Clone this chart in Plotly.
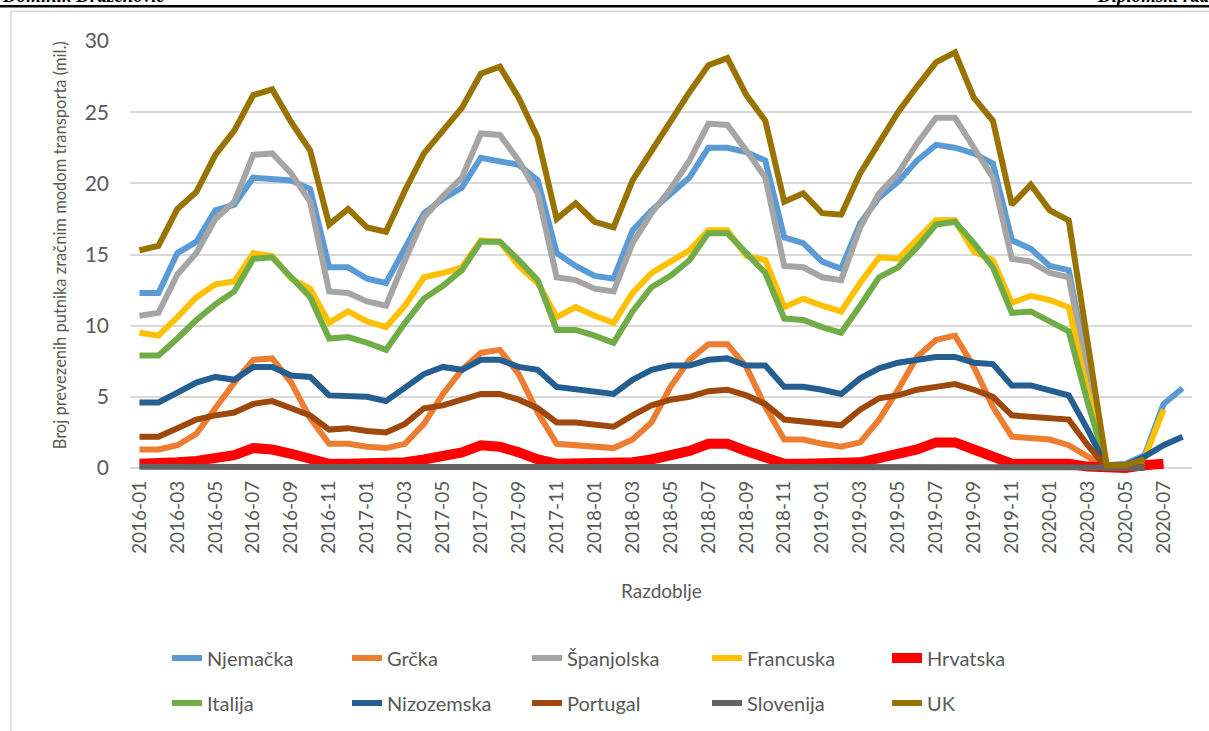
import plotly.graph_objects as go

# ---------------- data ----------------
months = [f"{y}-{m:02d}" for y in range(2016, 2021) for m in range(1, 13)][:56]
tick_labels = months[::2]

series_names = ["Njemačka", "Grčka", "Španjolska", "Francuska", "Hrvatska",
                "Italija", "Nizozemska", "Portugal", "Slovenija", "UK"]

njemacka = [12.3, 12.3, 15.1, 15.9, 18.1, 18.5, 20.4, 20.3, 20.2, 19.6, 14.1, 14.1,
            13.3, 13.0, 15.5, 17.9, 18.9, 19.7, 21.8, 21.6, 21.3, 20.2, 15.1, 14.2,
            13.5, 13.3, 16.7, 18.1, 19.3, 20.4, 22.5, 22.5, 22.2, 21.6, 16.2, 15.8,
            14.5, 14.0, 17.2, 19.0, 20.1, 21.6, 22.7, 22.5, 22.1, 21.4, 16.0, 15.4,
            14.2, 13.9, 7.0, 0.2, 0.3, 0.9, 4.5, 5.6]
grcka = [1.3, 1.3, 1.6, 2.4, 4.2, 6.0, 7.6, 7.7, 6.0, 3.5, 1.7, 1.7,
         1.5, 1.4, 1.7, 3.1, 5.2, 6.9, 8.1, 8.3, 6.6, 3.9, 1.7, 1.6,
         1.5, 1.4, 2.0, 3.2, 5.7, 7.6, 8.7, 8.7, 7.1, 4.3, 2.0, 2.0,
         1.7, 1.5, 1.8, 3.4, 5.5, 7.8, 9.0, 9.3, 7.1, 4.3, 2.2, 2.1,
         2.0, 1.6, 0.8, 0.0, 0.0, 0.1]
spanjolska = [10.7, 10.9, 13.6, 15.1, 17.5, 18.7, 22.0, 22.1, 20.7, 18.7, 12.4, 12.3,
              11.7, 11.4, 14.6, 17.6, 19.1, 20.4, 23.5, 23.4, 21.6, 19.3, 13.4, 13.2,
              12.6, 12.4, 15.8, 17.9, 19.6, 21.6, 24.2, 24.1, 22.3, 20.4, 14.2, 14.1,
              13.4, 13.2, 16.9, 19.3, 20.7, 22.8, 24.6, 24.6, 22.5, 20.4, 14.7, 14.5,
              13.7, 13.4, 6.5, 0.1, 0.1, 0.3]
francuska = [9.5, 9.3, 10.6, 12.0, 12.9, 13.1, 15.1, 14.9, 13.3, 12.6, 10.2, 11.0,
             10.3, 9.9, 11.4, 13.4, 13.7, 14.1, 16.0, 15.9, 14.2, 13.0, 10.6, 11.3,
             10.7, 10.2, 12.3, 13.7, 14.5, 15.3, 16.7, 16.7, 14.9, 14.6, 11.3, 11.9,
             11.4, 11.0, 13.0, 14.8, 14.7, 16.1, 17.4, 17.4, 15.2, 14.6, 11.6, 12.1,
             11.8, 11.3, 5.3, 0.1, 0.2, 0.7, 4.1]
hrvatska = [0.3, 0.3, 0.4, 0.5, 0.7, 0.9, 1.4, 1.3, 1.0, 0.6, 0.3, 0.3,
            0.3, 0.3, 0.4, 0.6, 0.9, 1.1, 1.6, 1.5, 1.1, 0.6, 0.3, 0.3,
            0.3, 0.3, 0.4, 0.6, 0.9, 1.2, 1.7, 1.7, 1.2, 0.7, 0.3, 0.3,
            0.3, 0.3, 0.4, 0.7, 1.0, 1.3, 1.8, 1.8, 1.3, 0.8, 0.3, 0.3,
            0.3, 0.3, 0.1, 0.0, 0.0, 0.2, 0.3]
italija = [7.9, 7.9, 9.1, 10.4, 11.5, 12.4, 14.7, 14.8, 13.4, 12.0, 9.1, 9.2,
           8.8, 8.3, 10.2, 11.9, 12.8, 13.9, 15.9, 15.9, 14.6, 13.2, 9.7, 9.7,
           9.3, 8.8, 11.0, 12.7, 13.5, 14.6, 16.5, 16.5, 15.1, 13.7, 10.5, 10.4,
           9.9, 9.5, 11.4, 13.4, 14.1, 15.5, 17.1, 17.3, 15.8, 14.1, 10.9, 11.0,
           10.3, 9.6, 4.6, 0.1, 0.1, 0.3]
nizozemska = [4.6, 4.6, 5.3, 6.0, 6.4, 6.2, 7.1, 7.1, 6.5, 6.4, 5.1, 5.1,
              5.0, 4.7, 5.7, 6.6, 7.1, 6.9, 7.6, 7.6, 7.1, 6.9, 5.7, 5.5,
              5.4, 5.2, 6.2, 6.9, 7.2, 7.2, 7.6, 7.7, 7.2, 7.2, 5.7, 5.7,
              5.5, 5.2, 6.3, 7.0, 7.4, 7.6, 7.8, 7.8, 7.4, 7.3, 5.8, 5.8,
              5.5, 5.1, 2.7, 0.1, 0.2, 0.8, 1.6, 2.2]
portugal = [2.2, 2.2, 2.8, 3.4, 3.7, 3.9, 4.5, 4.7, 4.2, 3.7, 2.7, 2.8,
            2.6, 2.5, 3.1, 4.2, 4.4, 4.8, 5.2, 5.2, 4.8, 4.2, 3.2, 3.2,
            3.0, 2.9, 3.7, 4.4, 4.8, 5.0, 5.4, 5.5, 5.1, 4.5, 3.4, 3.3,
            3.1, 3.0, 4.1, 4.9, 5.1, 5.5, 5.7, 5.9, 5.5, 5.0, 3.7, 3.6,
            3.5, 3.4, 1.6, 0.0, 0.0, 0.1]
slovenija = [0.08, 0.08, 0.09, 0.1, 0.11, 0.12, 0.14, 0.14, 0.12, 0.1, 0.08, 0.08,
             0.08, 0.08, 0.09, 0.1, 0.12, 0.13, 0.15, 0.15, 0.13, 0.11, 0.08, 0.08,
             0.08, 0.08, 0.09, 0.11, 0.12, 0.13, 0.15, 0.15, 0.13, 0.11, 0.08, 0.08,
             0.07, 0.07, 0.08, 0.09, 0.1, 0.11, 0.12, 0.12, 0.1, 0.09, 0.06, 0.06,
             0.06, 0.06, 0.03, 0.0, 0.0, 0.0]
uk = [15.3, 15.6, 18.2, 19.4, 22.0, 23.7, 26.2, 26.6, 24.3, 22.3, 17.1, 18.2,
      16.9, 16.6, 19.5, 22.1, 23.7, 25.3, 27.7, 28.2, 26.0, 23.2, 17.5, 18.6,
      17.3, 16.9, 20.2, 22.3, 24.4, 26.4, 28.3, 28.8, 26.2, 24.4, 18.7, 19.3,
      17.9, 17.8, 20.7, 22.9, 25.0, 26.8, 28.5, 29.2, 26.0, 24.4, 18.5, 19.9,
      18.1, 17.4, 8.8, 0.2, 0.2, 0.6]

series_values = [njemacka, grcka, spanjolska, francuska, hrvatska,
                 italija, nizozemska, portugal, slovenija, uk]
y_ticks = [0, 5, 10, 15, 20, 25, 30]

# ---------------- style ----------------
colors = ["#5B9BD5", "#ED7D31", "#A5A5A5", "#FFC000", "#FF0000",
          "#70AD47", "#255E91", "#9E480E", "#636363", "#997300"]
widths = [6, 6, 6, 6, 10, 6, 6, 6, 6, 6]
FONT = "Lato"
TXT = "#595959"

W, H = 1209, 731
L, R = 130, 1192          # plot area x pixels
T, B = 40.7, 472.7        # plot area y pixels


def px_x(p):
    return (p - L) / (R - L)


def px_y(p):
    return (B - p) / (B - T)


fig = go.Figure()
for i, (name, vals) in enumerate(zip(series_names, series_values)):
    fig.add_trace(go.Scatter(
        x=months[:len(vals)], y=vals, name=name, mode="lines",
        line=dict(color=colors[i], width=widths[i]),
        legend="legend" if i < 5 else "legend2",
        hoverinfo="x+y+name",
    ))

leg_common = dict(orientation="h", xanchor="left", yanchor="middle",
                  xref="container", yref="container",
                  font=dict(family=FONT, size=20, color=TXT),
                  bgcolor="rgba(0,0,0,0)", entrywidth=135, entrywidthmode="pixels",
                  itemwidth=30, traceorder="normal")

fig.update_layout(
    width=W, height=H,
    margin=dict(l=L, r=W - R, t=T, b=H - B, pad=0, autoexpand=False),
    paper_bgcolor="white", plot_bgcolor="white",
    showlegend=True,
    legend=dict(x=167 / W, y=(H - 658) / H, **leg_common),
    legend2=dict(x=167 / W, y=(H - 703) / H, **leg_common),
    xaxis=dict(type="category", range=[-0.5, 55.5],
               tickmode="array", tickvals=tick_labels, ticktext=tick_labels,
               tickangle=-90, ticks="", showgrid=False, zeroline=False,
               showline=False, automargin=False,
               tickfont=dict(family=FONT, size=19, color=TXT),
               ticklabelstandoff=3),
    yaxis=dict(range=[-0.351, 30], tickmode="array", tickvals=y_ticks,
               ticks="", showgrid=True, gridcolor="#D9D9D9", gridwidth=1.5,
               zeroline=False, showline=False, automargin=False,
               tickfont=dict(family=FONT, size=21, color=TXT),
               ticklabelstandoff=20),
    annotations=[
        dict(text="Broj prevezenih putnika zračnim modom transporta (mil.)",
             xref="paper", yref="paper", x=px_x(60), y=px_y(245),
             textangle=-90, showarrow=False, xanchor="center", yanchor="middle",
             font=dict(family=FONT, size=16.5, color=TXT)),
        dict(text="Razdoblje", xref="paper", yref="paper", x=px_x(661), y=px_y(590),
             showarrow=False, xanchor="center", yanchor="middle",
             font=dict(family=FONT, size=19, color=TXT)),
        dict(text="<b><i>Dominik Draženović</i></b>", xref="paper", yref="paper",
             x=px_x(0), y=px_y(8), xanchor="left", yanchor="bottom", showarrow=False,
             font=dict(family="Liberation Serif", size=19, color="black")),
        dict(text="<b><i>Diplomski rad</i></b>", xref="paper", yref="paper",
             x=px_x(1212), y=px_y(8), xanchor="right", yanchor="bottom", showarrow=False,
             font=dict(family="Liberation Serif", size=19, color="black")),
    ],
    shapes=[
        dict(type="line", xref="paper", yref="paper", x0=px_x(0), x1=px_x(W),
             y0=px_y(6), y1=px_y(6), line=dict(color="black", width=2.5)),
        dict(type="line", xref="paper", yref="paper", x0=px_x(11), x1=px_x(W),
             y0=px_y(11), y1=px_y(11), line=dict(color="#D9D9D9", width=1.5)),
        dict(type="line", xref="paper", yref="paper", x0=px_x(11), x1=px_x(11),
             y0=px_y(11), y1=px_y(H + 5), line=dict(color="#D9D9D9", width=1.5)),
    ],
)

fig.write_html("out.html",
               config={"displayModeBar": False},
               post_script="document.body.style.margin='0';"
                           "document.body.style.overflow='hidden';")
